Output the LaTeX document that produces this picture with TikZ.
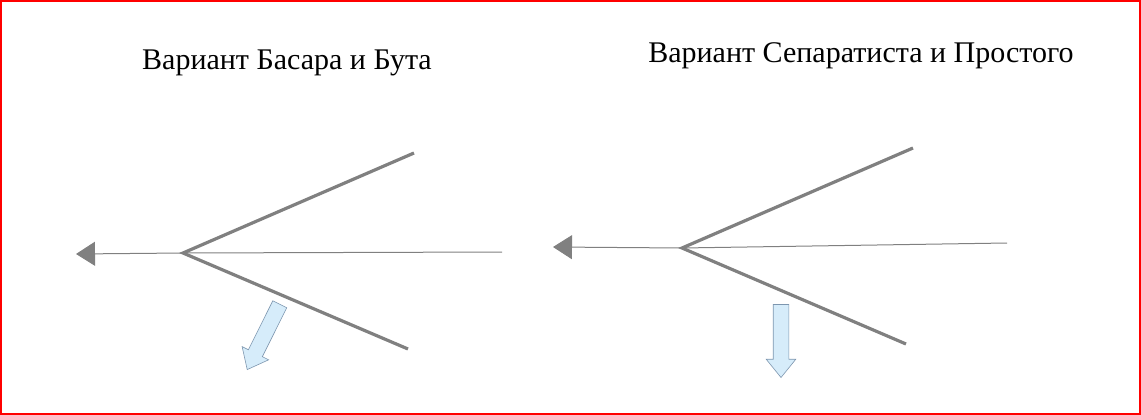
\documentclass[tikz,border=0pt]{standalone}
\usepackage{fontspec}
\setmainfont{Liberation Serif}
\usetikzlibrary{arrows.meta}
\usetikzlibrary{shapes.arrows}
\usetikzlibrary{positioning}

\definecolor{ribgray}{RGB}{128,128,128}
\definecolor{movefill}{RGB}{214,236,250}
\definecolor{moveedge}{RGB}{125,150,175}

\begin{document}
\begin{tikzpicture}[x=1pt,y=-1pt,
    title/.style={anchor=base,inner sep=0pt,font=\fontsize{30}{36}\selectfont},
    rib/.style={draw=ribgray,line width=3.2pt,line join=miter},
    spine/.style={draw=ribgray,line width=1pt,-{Triangle[length=19pt,width=24pt]}},
    move/.style={single arrow,draw=moveedge,fill=movefill,line width=0.6pt,
      minimum height=73pt,inner sep=7.5pt,single arrow head extend=7pt,
      single arrow tip angle=78,anchor=tip}]
  \useasboundingbox (0,0) rectangle (1141,415);
  \draw[red,line width=2pt] (1,1) rectangle (1140,414);

  \node[title] (Ltitle) at (287,69) {Вариант Басара и Бута};
  \coordinate (Lfork) at (183,253);
  \coordinate (Ltop) at (414,153);
  \coordinate (Lbot) at (408,349);
  \coordinate (Ltail) at (502,252);
  \coordinate (Lhead) at (76,254);
  \draw[spine] (Ltail) -- (Lfork) -- (Lhead);
  \draw[rib] (Ltop) -- (Lfork) -- (Lbot);
  \node[move,rotate=-116.5] (Lmove) at (247,370) {};

  \node[title] (Rtitle) at (861,62) {Вариант Сепаратиста и Простого};
  \coordinate (Rfork) at (682,248);
  \coordinate (Rtop) at (913,148);
  \coordinate (Rbot) at (906,344);
  \coordinate (Rtail) at (1007,243);
  \coordinate (Rhead) at (553,247);
  \draw[spine] (Rtail) -- (Rfork) -- (Rhead);
  \draw[rib] (Rtop) -- (Rfork) -- (Rbot);
  \node[move,rotate=-90] (Rmove) at (781,378) {};
\end{tikzpicture}
\end{document}
